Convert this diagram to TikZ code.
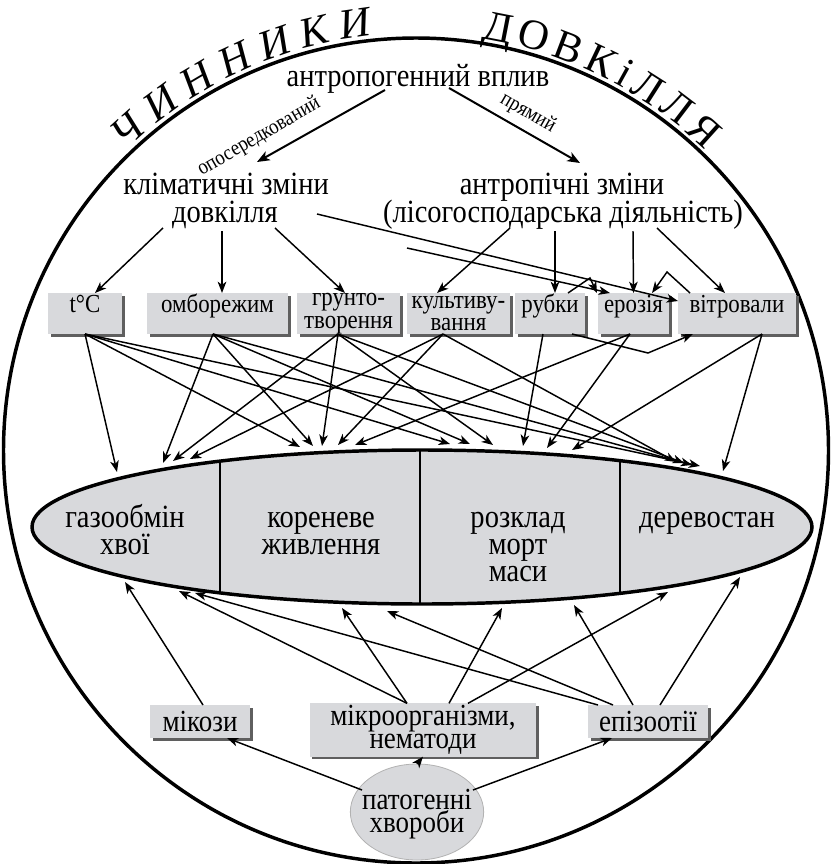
\documentclass[tikz,border=0pt]{standalone}
\usepackage{fontspec}
\setmainfont[FakeStretch=0.88]{Liberation Serif}
\newfontfamily\titlefam{Liberation Serif}
\usetikzlibrary{arrows.meta,shapes.geometric,decorations.text,calc}
\definecolor{boxgray}{RGB}{216,217,220}
\definecolor{shgray}{RGB}{95,95,95}
\newcommand\mainf{\fontsize{24.3pt}{25pt}\selectfont}
\newcommand\boxf{\fontsize{19.5pt}{17pt}\selectfont}
\newcommand\lblf{\fontsize{16pt}{17pt}\selectfont}
\newcommand\bigboxf{\fontsize{23pt}{17.5pt}\selectfont}
\newcommand\titlef{\titlefam\fontsize{32pt}{34pt}\selectfont}
\begin{document}
\begin{tikzpicture}[x=0.75pt,y=-0.75pt,
  every node/.style={inner sep=0pt, outer sep=0pt},
  arr/.style={line width=1.1pt, -{Stealth[length=8.5pt,width=6.5pt,inset=2.4pt]}},
  arrT/.style={line width=1.5pt, -{Stealth[length=9.5pt,width=7.5pt,inset=2.6pt]}},
  mtext/.style={font=\mainf, anchor=base},
  lbl/.style={font=\lblf},
  shbox/.style={fill=boxgray, align=center, preaction={fill=shgray, transform canvas={xshift=2pt,yshift=-2pt}}},
  sbox/.style={shbox, font=\boxf, text height=14.5pt, text depth=16.25pt},
  dbox/.style={shbox, font=\boxf, minimum height=30.75pt},
  bbox/.style={shbox, font=\bigboxf, minimum height=24.75pt},
  etext/.style={font=\mainf, anchor=base}
]
\useasboundingbox (0,0) rectangle (834,864);

% outer circle and title
\draw[line width=2.6pt] (416,450.5) circle[radius=412.5];
\path[decorate, decoration={text along path, text={|\titlef\itshape|ЧИННИКИ}, text align=fit to path}]
  ($(416,450.5)+(134:313pt)$) arc[start angle=134, end angle=96, radius=313pt];
\path[decorate, decoration={text along path, text={|\titlef|ДОВКіЛЛЯ}, text align=fit to path}]
  ($(416,450.5)+(81:313pt)$) arc[start angle=81, end angle=46, radius=313pt];

% top texts
\node[mtext] (anth) at (418,86) {антропогенний вплив};
\node[mtext] (clim1) at (226,194) {кліматичні зміни};
\node[mtext] (clim2) at (225,222) {довкілля};
\node[mtext] (anthc1) at (562,194) {антропічні зміни};
\node[mtext] (anthc2) at (563,222) {(лісогосподарська діяльність)};
\node[lbl, rotate=30] (lo) at (259,137) {опосередкований};
\node[lbl, rotate=-30] (lp) at (528,113) {прямий};

% factor boxes
\node[sbox, minimum width=55.5pt] (tc) at (85,313.5) {t°C};
\node[sbox, minimum width=105.75pt] (om) at (217.5,313.5) {омборежим};
\node[dbox, minimum width=77.25pt] (gr) at (348.5,313.5) {грунто-\\творення};
\node[dbox, minimum width=77.25pt] (ku) at (458.5,313.5) {культиву-\\вання};
\node[sbox, minimum width=52.5pt] (ru) at (550,313.5) {рубки};
\node[sbox, minimum width=53.25pt] (er) at (633.5,313.5) {ерозія};
\node[sbox, minimum width=88.5pt] (vi) at (737,313.5) {вітровали};

% big ellipse
\node[ellipse, draw, line width=2.6pt, fill=boxgray, minimum width=585pt, minimum height=115.5pt] (ell) at (422,527) {};
\draw[line width=1.8pt] (220,461.1) -- (220,592.9);
\draw[line width=1.8pt] (420,450.0) -- (420,604.0);
\draw[line width=1.8pt] (620,460.7) -- (620,593.3);
\node[etext] (gaz1) at (125,527) {газообмін};
\node[etext] (gaz2) at (125,554) {хвої};
\node[etext] (kor1) at (321,527) {кореневе};
\node[etext] (kor2) at (321,554) {живлення};
\node[etext] (roz1) at (518,527) {розклад};
\node[etext] (roz2) at (518,554) {морт};
\node[etext] (roz3) at (518,581) {маси};
\node[etext] (der) at (707,527) {деревостан};

% bottom boxes
\node[bbox, minimum width=75pt] (mk) at (200,721.5) {мікози};
\node[bbox, minimum width=170pt, minimum height=40pt] (mo) at (423,730) {мікроорганізми,\\нематоди};
\node[bbox, minimum width=90pt] (ep) at (648,721.5) {епізоотії};
\node[ellipse, fill=boxgray, draw=gray!60, line width=0.6pt, minimum width=100pt, minimum height=72pt] (pat) at (417,812) {};
\node[font=\bigboxf, align=center] (patt) at (417,814) {патогенні\\хвороби};

% top arrows
\draw[arrT] ($(anth.base)+(-33,4)$) -- ($(clim1.base)+(31,-32)$);
\draw[arrT] ($(anth.base)+(31,2)$) -- ($(anthc1.base)+(18,-31)$);

\draw[arr] ($(clim2.base)+(-62,6)$) -- ($(tc.north)+(10,0)$);
\draw[arr] ($(clim2.base)+(-3,9)$) -- ($(om.north)+(4.5,0)$);
\draw[arr] ($(clim2.base)+(50,6)$) -- ($(gr.north)+(-3.5,0)$);
\draw[arr] ($(clim2.base)+(92,-8)$) -- ($(vi.north west)+(0,8)$);
\coordinate (fr) at (407,248);
\draw[arr] (fr) -- ($(er.north)+(-23.5,0)$);

\draw[arr] ($(anthc2.base)+(-53,6)$) -- ($(ku.north)+(-21.5,0)$);
\draw[arr] ($(anthc2.base)+(-8,9)$) -- ($(ru.north)+(5,0)$);
\draw[arr] ($(anthc2.base)+(70,9)$) -- (er.north);
\draw[arr] ($(anthc2.base)+(94,6)$) -- ($(vi.north)+(-12,0)$);

\coordinate (b1) at (590,278);
\coordinate (b2) at (667,272);
\coordinate (b3) at (648,353);
\draw[arr] ($(ru.north)+(18,0)$) -- (b1) -- ($(er.north)+(-36.5,0)$);
\draw[arr] ($(vi.north west)+(12,0)$) -- (b2) -- ($(er.north)+(18.5,0)$);
\draw[arr] ($(ru.south)+(22,0)$) -- (b3) -- ($(vi.south)+(-44,0)$);

% factor boxes -> ellipse
\coordinate (tcS) at (tc.south);
\coordinate (omS) at ($(om.south)+(-4.5,0)$);
\coordinate (grS) at ($(gr.south)+(-10.5,0)$);
\coordinate (kuS) at ($(ku.south)+(-15.5,0)$);
\coordinate (ruS) at ($(ru.south)+(-7,0)$);
\coordinate (erS) at ($(er.south)+(-3.5,0)$);
\coordinate (viS) at ($(vi.south)+(25,0)$);
\foreach \s/\dx/\dy in {tcS/-305/-55, omS/-259/-64, grS/-249/-66, kuS/-232/-68,
  tcS/-122/-80, omS/-109/-81, grS/-100/-81, kuS/-84/-82, erS/-67/-82,
  tcS/28/-83, omS/48/-83, grS/71/-82, ruS/101/-81, erS/125/-79, viS/150/-77,
  kuS/254/-65, grS/262/-64, omS/270/-62, tcS/278/-61, viS/301/-56}
  \draw[arr] (\s) -- ($(ell.center)+(\dx,\dy)$);

% bottom boxes -> ellipse
\coordinate (mkN) at ($(mk.north)+(3,0)$);
\coordinate (moA) at ($(mo.north)+(-16,0)$);
\coordinate (moB) at ($(mo.north)+(26,0)$);
\coordinate (moC) at ($(mo.north)+(45,0)$);
\coordinate (epA) at ($(ep.north)+(-50,0)$);
\coordinate (epB) at ($(ep.north)+(-35,0)$);
\coordinate (epC) at ($(ep.north)+(-15,0)$);
\coordinate (epD) at ($(ep.north)+(12,0)$);
\foreach \s/\dx/\dy in {mkN/-297/55, moA/-243/64, moA/-80/81, moB/80/81, moC/246/65,
  epA/-227/66, epB/-35/84, epC/152/78, epD/318/50}
  \draw[arr] (\s) -- ($(ell.center)+(\dx,\dy)$);

% pathogenic diseases
\draw[arr] ($(pat.center)+(-55,-22)$) -- ($(mk.south)+(27,0)$);
\draw[arr] (pat.north) -- (mo.south);
\draw[arr] ($(pat.center)+(56,-22)$) -- ($(ep.south)+(-36,0)$);
\end{tikzpicture}
\end{document}
